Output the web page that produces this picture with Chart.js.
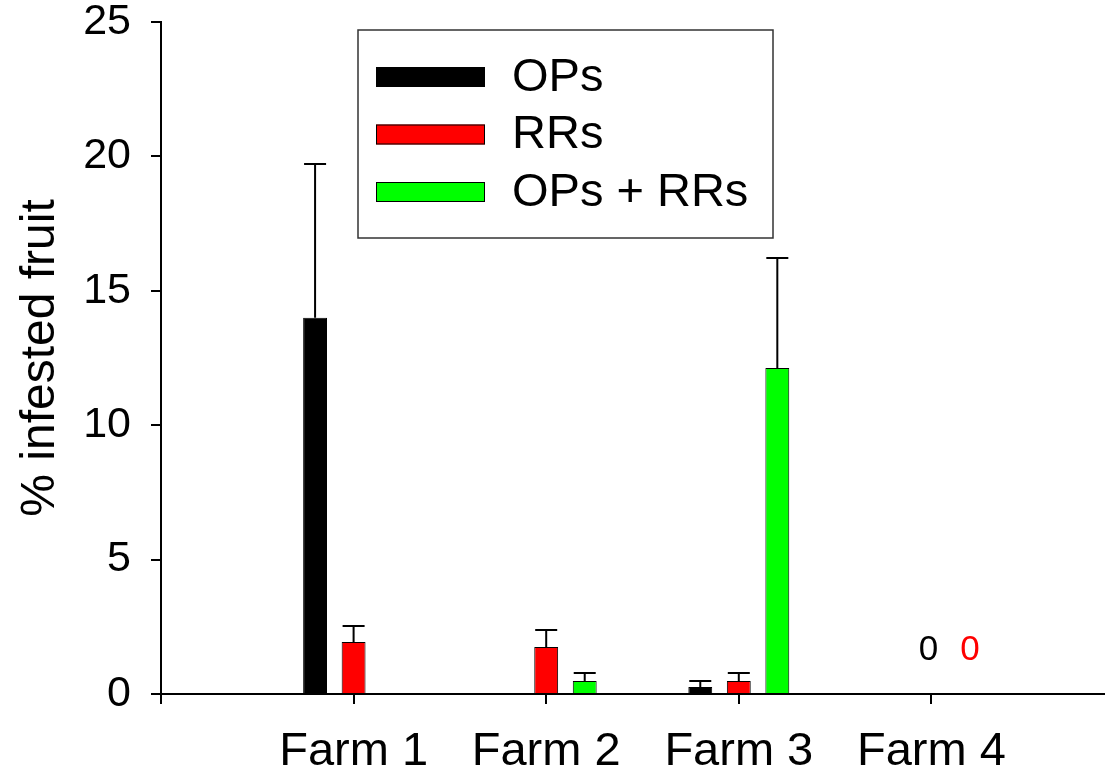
<!DOCTYPE html>
<html>
<head>
<meta charset="utf-8">
<script src="https://cdn.jsdelivr.net/npm/chart.js@4/dist/chart.umd.min.js"></script>
<style>
  html, body { margin: 0; padding: 0; background: #fff; overflow: hidden; }
  #wrap { width: 1105px; height: 776px; overflow: hidden; }
  canvas { display: block; }
</style>
</head>
<body>
<div id="wrap"><canvas id="c" width="1124" height="776"></canvas></div>
<script>
// ---- data ----
const categories = ['', 'Farm 1', 'Farm 2', 'Farm 3', 'Farm 4', ''];
const seriesNames = ['OPs', 'RRs', 'OPs + RRs'];
const opsValues  = [null, 14.0, null, 0.26, 0, null];
const rrsValues  = [null, 1.93, 1.75, 0.48, 0, null];
const bothValues = [null, null, 0.48, 12.13, null, null];
const opsErr  = [null, 5.72, null, 0.22, null, null];
const rrsErr  = [null, 0.60, 0.63, 0.30, null, null];
const bothErr = [null, null, 0.30, 4.09, null, null];
const yTicks = [0, 5, 10, 15, 20, 25];
const zeroNotes = ['Farm 4']; // categories where OPs and RRs are 0

const FONT = "'Liberation Sans', Arial, Helvetica, sans-serif";
const colors = ['#000000', '#ff0000', '#00ff00'];

const errorBars = {
  id: 'errorBars',
  afterDatasetsDraw(chart) {
    const ctx = chart.ctx;
    const ys = chart.scales.y;
    const errs = [opsErr, rrsErr, bothErr];
    ctx.save();
    ctx.strokeStyle = '#000';
    ctx.lineWidth = 2;
    chart.data.datasets.forEach((ds, i) => {
      const meta = chart.getDatasetMeta(i);
      meta.data.forEach((el, j) => {
        const e = errs[i][j];
        const v = ds.data[j];
        if (e == null || v == null) return;
        const top = ys.getPixelForValue(v + e);
        ctx.beginPath();
        ctx.moveTo(el.x, el.y);
        ctx.lineTo(el.x, top);
        ctx.moveTo(el.x - 11, top);
        ctx.lineTo(el.x + 11, top);
        ctx.stroke();
      });
    });
    // zero annotations
    const xs = chart.scales.x;
    ctx.font = '35px ' + FONT;
    ctx.textAlign = 'center';
    ctx.textBaseline = 'middle';
    zeroNotes.forEach(cat => {
      const idx = categories.indexOf(cat);
      const cx = xs.getPixelForValue(idx);
      const slot = chart.getDatasetMeta(2).data[1].x - chart.getDatasetMeta(1).data[1].x;
      const ty = ys.getPixelForValue(1.64);
      ctx.fillStyle = colors[0];
      ctx.fillText(String(opsValues[idx]), cx - 3, ty);
      ctx.fillStyle = colors[1];
      ctx.fillText(String(rrsValues[idx]), cx + slot, ty);
    });
    ctx.restore();
  }
};

const boxLegend = {
  id: 'boxLegend',
  afterDraw(chart) {
    const ctx = chart.ctx;
    ctx.save();
    ctx.strokeStyle = '#333';
    ctx.lineWidth = 1.5;
    ctx.strokeRect(358, 30, 415, 208);
    ctx.font = '47px ' + FONT;
    ctx.textAlign = 'left';
    ctx.textBaseline = 'middle';
    const rows = [77, 134.5, 192];
    chart.data.datasets.forEach((ds, i) => {
      const cy = rows[i];
      ctx.fillStyle = ds.backgroundColor;
      ctx.fillRect(376, cy - 10, 109, 20);
      ctx.strokeStyle = '#000';
      ctx.lineWidth = 1;
      ctx.strokeRect(376.5, cy - 9.5, 108, 19);
      ctx.fillStyle = '#000';
      ctx.fillText(ds.label, 512, cy + 1);
    });
    ctx.restore();
  }
};

new Chart(document.getElementById('c'), {
  type: 'bar',
  data: {
    labels: categories,
    datasets: [
      { label: seriesNames[0], data: opsValues, backgroundColor: colors[0], borderColor: '#000', borderWidth: 1 },
      { label: seriesNames[1], data: rrsValues, backgroundColor: colors[1], borderColor: '#000', borderWidth: 1 },
      { label: seriesNames[2], data: bothValues, backgroundColor: colors[2], borderColor: '#000', borderWidth: 1 }
    ]
  },
  options: {
    responsive: false,
    animation: false,
    devicePixelRatio: 1,
    layout: { padding: { top: 22, right: 0, left: 0, bottom: 0 } },
    categoryPercentage: 0.6,
    barPercentage: 0.62,
    plugins: { legend: { display: false }, tooltip: { enabled: false } },
    scales: {
      x: {
        type: 'category',
        offset: false,
        grid: { display: true, offset: false, drawOnChartArea: false, drawTicks: true, tickLength: 10, color: '#000', lineWidth: 2 },
        border: { display: true, color: '#000', width: 2 },
        ticks: { color: '#000', font: { family: FONT, size: 47 }, padding: 20, maxRotation: 0, autoSkip: false },
        afterFit(s) { s.height = 82; s.paddingLeft = 0; s.paddingRight = 0; }
      },
      y: {
        min: 0, max: 25,
        afterBuildTicks(s) { s.ticks = yTicks.map(v => ({ value: v })); },
        grid: { display: true, drawOnChartArea: false, drawTicks: true, tickLength: 10, color: '#000', lineWidth: 2 },
        border: { display: true, color: '#000', width: 2 },
        ticks: { color: '#000', font: { family: FONT, size: 43 }, padding: 20 },
        title: { display: true, text: '% infested fruit', color: '#000', font: { family: FONT, size: 48, weight: 'normal' }, padding: { top: 12, bottom: 0 } },
        afterFit(s) { s.width = 161; s.paddingTop = 0; s.paddingBottom = 0; }
      }
    }
  },
  plugins: [errorBars, boxLegend]
});
</script>
</body>
</html>
